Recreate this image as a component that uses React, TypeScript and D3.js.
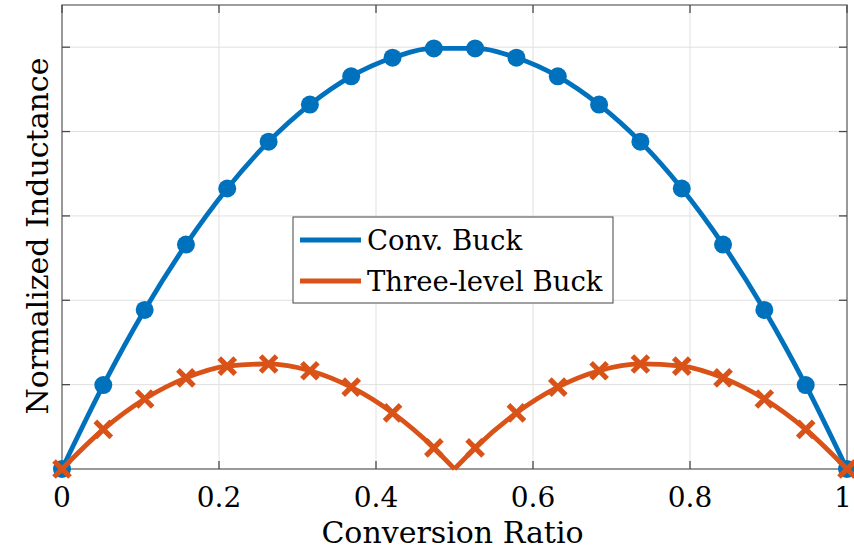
import React, { useEffect, useRef } from "react";
import * as d3 from "d3";

// duty ratio sample points (20 markers, 0..1)
const ratios = [0, 0.0526, 0.1053, 0.1579, 0.2105, 0.2632, 0.3158, 0.3684, 0.4211, 0.4737,
  0.5263, 0.5789, 0.6316, 0.6842, 0.7368, 0.7895, 0.8421, 0.8947, 0.9474, 1];
const convBuck = [0, 0.199, 0.377, 0.532, 0.665, 0.776, 0.864, 0.931, 0.975, 0.997,
  0.997, 0.975, 0.931, 0.864, 0.776, 0.665, 0.532, 0.377, 0.199, 0];
const threeLevel = [0, 0.094, 0.166, 0.216, 0.244, 0.249, 0.233, 0.194, 0.133, 0.05,
  0.05, 0.133, 0.194, 0.233, 0.249, 0.244, 0.216, 0.166, 0.094, 0];
// the three-level curve touches zero at this ratio
const threeLevelZero = { x: 0.5, y: 0 };

const xTicks = [0, 0.2, 0.4, 0.6, 0.8, 1];
const yTicks = [0, 0.2, 0.4, 0.6, 0.8, 1];
const seriesNames = ["Conv. Buck", "Three-level Buck"];

const BLUE = "#0072BD";
const ORANGE = "#D95319";
const FONT = "'DejaVu Serif', serif";

const W = 854, H = 558;
const margin = { top: 5, right: 7, bottom: 89, left: 62 };

function Chart() {
  const ref = useRef<SVGSVGElement>(null);

  useEffect(() => {
    const svg = d3.select(ref.current);
    svg.selectAll("*").remove();

    const iw = W - margin.left - margin.right;
    const ih = H - margin.top - margin.bottom;

    const x = d3.scaleLinear().domain([0, 1]).range([0, iw]);
    const y = d3.scaleLinear().domain([0, 1.1]).range([ih, 0]);

    const g = svg.append("g").attr("transform", `translate(${margin.left},${margin.top})`);

    // grid
    g.append("g").selectAll("line.gx").data(xTicks).enter().append("line")
      .attr("x1", d => x(d)).attr("x2", d => x(d)).attr("y1", 0).attr("y2", ih)
      .attr("stroke", "#e0e0e0").attr("stroke-width", 1);
    g.append("g").selectAll("line.gy").data(yTicks).enter().append("line")
      .attr("x1", 0).attr("x2", iw).attr("y1", d => y(d)).attr("y2", d => y(d))
      .attr("stroke", "#e0e0e0").attr("stroke-width", 1);

    // box
    g.append("rect").attr("x", 0).attr("y", 0).attr("width", iw).attr("height", ih)
      .attr("fill", "none").attr("stroke", "#6b6b6b").attr("stroke-width", 1.3);

    // inward ticks
    const tl = 8;
    xTicks.forEach(t => {
      g.append("line").attr("x1", x(t)).attr("x2", x(t)).attr("y1", ih).attr("y2", ih - tl)
        .attr("stroke", "#4a4a4a").attr("stroke-width", 1.3);
      g.append("line").attr("x1", x(t)).attr("x2", x(t)).attr("y1", 0).attr("y2", tl)
        .attr("stroke", "#4a4a4a").attr("stroke-width", 1.3);
    });
    yTicks.forEach(t => {
      g.append("line").attr("x1", 0).attr("x2", tl).attr("y1", y(t)).attr("y2", y(t))
        .attr("stroke", "#4a4a4a").attr("stroke-width", 1.3);
      g.append("line").attr("x1", iw).attr("x2", iw - tl).attr("y1", y(t)).attr("y2", y(t))
        .attr("stroke", "#4a4a4a").attr("stroke-width", 1.3);
    });

    // x tick labels (last one nudged so it stays inside the page)
    g.append("g").selectAll("text").data(xTicks).enter().append("text")
      .attr("x", d => Math.min(x(d), iw - 4)).attr("y", 507 - margin.top)
      .attr("text-anchor", "middle")
      .style("font", `28px ${FONT}`).attr("fill", "#000")
      .text(d => d3.format("")(d));

    // axis titles
    g.append("text").attr("x", iw / 2 - 2).attr("y", 543 - margin.top)
      .attr("text-anchor", "middle").style("font", `30px ${FONT}`)
      .text("Conversion Ratio");
    g.append("text").attr("transform", `translate(${48 - margin.left},${236 - margin.top}) rotate(-90)`)
      .attr("text-anchor", "middle").style("font", `30px ${FONT}`)
      .text("Normalized Inductance");

    // lines
    const blueData = ratios.map((r, i) => ({ x: r, y: convBuck[i] }));
    const orangeData = ratios.map((r, i) => ({ x: r, y: threeLevel[i] }));
    const line = d3.line<{ x: number; y: number }>()
      .x(d => x(d.x)).y(d => y(d.y)).curve(d3.curveMonotoneX);

    g.append("path").attr("d", line(blueData)!)
      .attr("fill", "none").attr("stroke", BLUE).attr("stroke-width", 4.8);
    const leftHalf = orangeData.filter(d => d.x < 0.5).concat([threeLevelZero]);
    const rightHalf = [threeLevelZero].concat(orangeData.filter(d => d.x > 0.5));
    [leftHalf, rightHalf].forEach(part => {
      g.append("path").attr("d", line(part)!)
        .attr("fill", "none").attr("stroke", ORANGE).attr("stroke-width", 4.8)
        .attr("stroke-linejoin", "round");
    });

    // markers
    g.append("g").selectAll("circle").data(blueData).enter().append("circle")
      .attr("cx", d => x(d.x)).attr("cy", d => y(d.y)).attr("r", 9)
      .attr("fill", BLUE);
    const s = 8;
    g.append("g").selectAll("path").data(orangeData).enter().append("path")
      .attr("d", d => `M${x(d.x) - s},${y(d.y) - s}L${x(d.x) + s},${y(d.y) + s}M${x(d.x) - s},${y(d.y) + s}L${x(d.x) + s},${y(d.y) - s}`)
      .attr("stroke", ORANGE).attr("stroke-width", 5.2).attr("fill", "none");

    // legend
    const lg = svg.append("g").attr("transform", "translate(293,217)");
    lg.append("rect").attr("width", 320).attr("height", 86)
      .attr("fill", "#fff").attr("stroke", "#444").attr("stroke-width", 1);
    [BLUE, ORANGE].forEach((c, i) => {
      const yy = 23 + i * 41;
      lg.append("line").attr("x1", 7).attr("x2", 68).attr("y1", yy).attr("y2", yy)
        .attr("stroke", c).attr("stroke-width", 4.8);
      lg.append("text").attr("x", 74).attr("y", yy + 10)
        .style("font", `27.5px ${FONT}`).text(seriesNames[i]);
    });
  }, []);

  return <svg ref={ref} width={W} height={H} style={{ display: "block" }} />;
}

export default function App() {
  return (
    <div style={{ position: "absolute", left: 0, top: 0, background: "#fff" }}>
      <Chart />
    </div>
  );
}
